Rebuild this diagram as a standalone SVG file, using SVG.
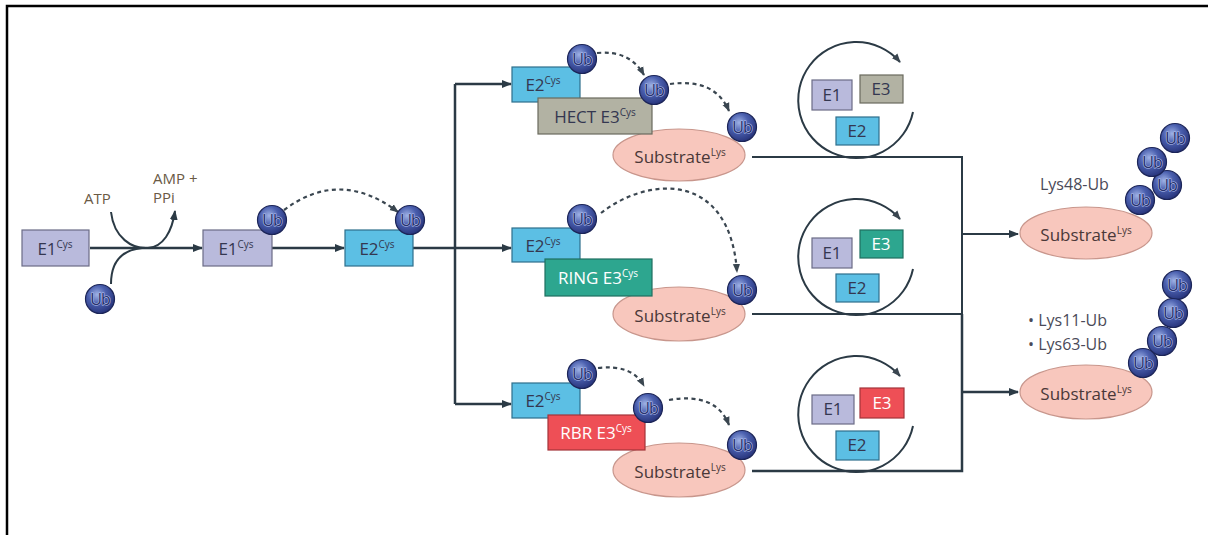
<svg xmlns="http://www.w3.org/2000/svg" width="1208" height="535" viewBox="0 0 1208 535">
<defs>
<radialGradient id="ubg" cx="40%" cy="35%" r="70%">
<stop offset="0" stop-color="#9fb2e6"/>
<stop offset="0.45" stop-color="#4a5fae"/>
<stop offset="1" stop-color="#243076"/>
</radialGradient>
<marker id="ah" viewBox="0 0 10 8" refX="9" refY="4" markerWidth="10" markerHeight="8" markerUnits="userSpaceOnUse" orient="auto">
<path d="M0,0 L10,4 L0,8 z" fill="#2b3a45"/>
</marker>
<marker id="ahs" viewBox="0 0 10 8" refX="9" refY="4" markerWidth="9" markerHeight="8" markerUnits="userSpaceOnUse" orient="auto">
<path d="M0,0 L10,4 L0,8 z" fill="#3a4650"/>
</marker>
<style>
text{font-family:"Open Sans","Noto Sans","Liberation Sans",sans-serif;}
.ln{fill:none;stroke:#2b3a45;stroke-width:2.5;}
.thin{fill:none;stroke:#2b3a45;stroke-width:2;}
.dash{fill:none;stroke:#3a4650;stroke-width:2.2;stroke-dasharray:4 3.5;}
.cyc{fill:none;stroke:#2b3a45;stroke-width:2;}
.e1{fill:#b9badc;stroke:#6b6c86;stroke-width:1.2;}
.e2{fill:#5cbfe4;stroke:#2e6f8c;stroke-width:1.2;}
.hect{fill:#b2b2a3;stroke:#6a6a5e;stroke-width:1.2;}
.ring{fill:#2da68f;stroke:#1f6f60;stroke-width:1.2;}
.rbr{fill:#ee4f56;stroke:#a3343a;stroke-width:1.2;}
.sub{fill:#f8c7bd;stroke:#c8968c;stroke-width:1.2;}
.ub{fill:url(#ubg);stroke:#1c2558;stroke-width:1.2;}
.ubt{font-size:16px;fill:#27316c;stroke:#b4c1ee;stroke-width:1.1px;paint-order:stroke;text-anchor:middle;letter-spacing:-1px;}
.lbl{font-size:17px;fill:#343750;text-anchor:middle;}
.lblw{font-size:17px;fill:#ffffff;text-anchor:middle;}
.sup{font-size:10px;}
.subt{font-size:17px;fill:#4a3838;text-anchor:middle;}
.atp{font-size:15px;fill:#6a5a45;}
.lys{font-size:16px;fill:#4a4a58;}
</style>
</defs>
<rect width="1208" height="535" fill="#ffffff"/>
<!-- frame -->
<path d="M7,535 V6 H1208" fill="none" stroke="#000" stroke-width="2.5"/>

<g id="connectors">
<path class="ln" d="M90,248 H202" marker-end="url(#ah)"/>
<path class="thin" d="M111,212 C114,238 132,249 148,248 C163,247 172,232 175,211" marker-end="url(#ah)"/>
<path class="thin" d="M111,284 C111,262 122,250 142,248"/>
<path class="ln" d="M272,248 H344" marker-end="url(#ah)"/>
<path class="dash" d="M284,210 Q340,168 398,212" marker-end="url(#ahs)"/>
<path class="ln" d="M413,248 H455"/>
<path class="ln" d="M455,84 V404"/>
<path class="ln" d="M455,84 H511" marker-end="url(#ah)"/>
<path class="ln" d="M455,248 H511" marker-end="url(#ah)"/>
<path class="ln" d="M455,404 H511" marker-end="url(#ah)"/>
<path class="dash" d="M597,53 Q630,50 644,75" marker-end="url(#ahs)"/>
<path class="dash" d="M670,84 Q715,78 729,111" marker-end="url(#ahs)"/>
<path class="dash" d="M601,213 C650,175 730,172 737,272" marker-end="url(#ahs)"/>
<path class="dash" d="M598,368 Q632,364 644,386" marker-end="url(#ahs)"/>
<path class="dash" d="M669,400 Q716,392 729,425" marker-end="url(#ahs)"/>
<path class="thin" d="M752,157 H962 V314"/>
<path class="thin" d="M752,314 H962"/>
<path class="ln" d="M752,471 H962 V314"/>
<path class="thin" d="M962,234 H1018" marker-end="url(#ah)"/>
<path class="ln" d="M962,392 H1018" marker-end="url(#ah)"/>
<path class="cyc" d="M913,112 A58,58 0 1 1 900,62" marker-end="url(#ahs)"/>
<path class="cyc" d="M913,269 A58,58 0 1 1 900,219" marker-end="url(#ahs)"/>
<path class="cyc" d="M913,426 A58,58 0 1 1 900,376" marker-end="url(#ahs)"/>
</g>

<g id="e1-start">
<rect class="e1" x="22" y="230" width="67" height="36"/>
<text class="lbl" x="55" y="255">E1<tspan class="sup" dy="-7">Cys</tspan></text>
</g>
<g id="atp-labels">
<text class="atp" x="84" y="204">ATP</text>
<text class="atp" x="153" y="184">AMP +</text>
<text class="atp" x="153" y="203">PPi</text>
</g>
<g id="ub-free">
<circle class="ub" cx="100" cy="299" r="14.5"/>
<text class="ubt" x="100" y="305">Ub</text>
</g>
<g id="e1-ub">
<rect class="e1" x="203" y="230" width="69" height="36"/>
<text class="lbl" x="236" y="255">E1<tspan class="sup" dy="-7">Cys</tspan></text>
<circle class="ub" cx="272" cy="220" r="14.5"/>
<text class="ubt" x="272" y="226">Ub</text>
</g>
<g id="e2-ub">
<rect class="e2" x="345" y="230" width="68" height="36"/>
<text class="lbl" x="377" y="255">E2<tspan class="sup" dy="-7">Cys</tspan></text>
<circle class="ub" cx="410" cy="220" r="14.5"/>
<text class="ubt" x="410" y="226">Ub</text>
</g>

<g id="hect-row">
<ellipse class="sub" cx="679" cy="155" rx="66" ry="26"/>
<text class="subt" x="680" y="163">Substrate<tspan class="sup" dy="-7">Lys</tspan></text>
<rect class="e2" x="512" y="67" width="68" height="35"/>
<text class="lbl" x="543" y="91">E2<tspan class="sup" dy="-7">Cys</tspan></text>
<rect class="hect" x="538" y="98" width="114" height="36"/>
<text class="lbl" x="595" y="123">HECT E3<tspan class="sup" dy="-7">Cys</tspan></text>
<circle class="ub" cx="582" cy="59" r="14.5"/>
<text class="ubt" x="582" y="65">Ub</text>
<circle class="ub" cx="654" cy="90" r="14.5"/>
<text class="ubt" x="654" y="96">Ub</text>
<circle class="ub" cx="742" cy="127" r="14.5"/>
<text class="ubt" x="742" y="133">Ub</text>
</g>

<g id="ring-row">
<ellipse class="sub" cx="679" cy="314" rx="66" ry="27"/>
<text class="subt" x="680" y="322">Substrate<tspan class="sup" dy="-7">Lys</tspan></text>
<rect class="e2" x="512" y="228" width="68" height="34"/>
<text class="lbl" x="543" y="252">E2<tspan class="sup" dy="-7">Cys</tspan></text>
<rect class="ring" x="545" y="259" width="107" height="37"/>
<text class="lblw" x="598" y="284">RING E3<tspan class="sup" dy="-7">Cys</tspan></text>
<circle class="ub" cx="582" cy="219" r="14.5"/>
<text class="ubt" x="582" y="225">Ub</text>
<circle class="ub" cx="742" cy="290" r="14.5"/>
<text class="ubt" x="742" y="296">Ub</text>
</g>

<g id="rbr-row">
<ellipse class="sub" cx="679" cy="470" rx="66" ry="27"/>
<text class="subt" x="680" y="478">Substrate<tspan class="sup" dy="-7">Lys</tspan></text>
<rect class="e2" x="512" y="383" width="68" height="35"/>
<text class="lbl" x="543" y="407">E2<tspan class="sup" dy="-7">Cys</tspan></text>
<rect class="rbr" x="548" y="415" width="97" height="35"/>
<text class="lblw" x="596" y="439">RBR E3<tspan class="sup" dy="-7">Cys</tspan></text>
<circle class="ub" cx="582" cy="374" r="14.5"/>
<text class="ubt" x="582" y="380">Ub</text>
<circle class="ub" cx="648" cy="408" r="14.5"/>
<text class="ubt" x="648" y="414">Ub</text>
<circle class="ub" cx="742" cy="445" r="14.5"/>
<text class="ubt" x="742" y="451">Ub</text>
</g>

<g id="cycle-hect">
<rect class="e1" x="812" y="80" width="40" height="30"/>
<text class="lbl" x="832" y="101">E1</text>
<rect class="hect" x="860" y="75" width="43" height="28"/>
<text class="lbl" x="881" y="95">E3</text>
<rect class="e2" x="836" y="117" width="43" height="28"/>
<text class="lbl" x="857" y="137">E2</text>
</g>
<g id="cycle-ring">
<rect class="e1" x="812" y="238" width="40" height="30"/>
<text class="lbl" x="832" y="259">E1</text>
<rect class="ring" x="860" y="230" width="43" height="28"/>
<text class="lblw" x="881" y="250">E3</text>
<rect class="e2" x="836" y="274" width="43" height="28"/>
<text class="lbl" x="857" y="294">E2</text>
</g>
<g id="cycle-rbr">
<rect class="e1" x="812" y="395" width="42" height="29"/>
<text class="lbl" x="833" y="415">E1</text>
<rect class="rbr" x="860" y="388" width="44" height="30"/>
<text class="lblw" x="882" y="409">E3</text>
<rect class="e2" x="836" y="431" width="43" height="29"/>
<text class="lbl" x="857" y="451">E2</text>
</g>

<g id="product-lys48">
<text class="lys" x="1040" y="190">Lys48-Ub</text>
<ellipse class="sub" cx="1086" cy="233" rx="66" ry="26"/>
<text class="subt" x="1086" y="241">Substrate<tspan class="sup" dy="-7">Lys</tspan></text>
<circle class="ub" cx="1140" cy="200" r="14.5"/>
<text class="ubt" x="1140" y="206">Ub</text>
<circle class="ub" cx="1167" cy="185" r="14.5"/>
<text class="ubt" x="1167" y="191">Ub</text>
<circle class="ub" cx="1152" cy="162" r="14.5"/>
<text class="ubt" x="1152" y="168">Ub</text>
<circle class="ub" cx="1175" cy="138" r="14.5"/>
<text class="ubt" x="1175" y="144">Ub</text>
</g>
<g id="product-lys11-63">
<text class="lys" x="1028" y="326">• Lys11-Ub</text>
<text class="lys" x="1028" y="350">• Lys63-Ub</text>
<ellipse class="sub" cx="1086" cy="392" rx="66" ry="27"/>
<text class="subt" x="1086" y="400">Substrate<tspan class="sup" dy="-7">Lys</tspan></text>
<circle class="ub" cx="1177" cy="285" r="14.5"/>
<text class="ubt" x="1177" y="291">Ub</text>
<circle class="ub" cx="1173" cy="313" r="14.5"/>
<text class="ubt" x="1173" y="319">Ub</text>
<circle class="ub" cx="1162" cy="341" r="14.5"/>
<text class="ubt" x="1162" y="347">Ub</text>
<circle class="ub" cx="1143" cy="363" r="14.5"/>
<text class="ubt" x="1143" y="369">Ub</text>
</g>
</svg>
